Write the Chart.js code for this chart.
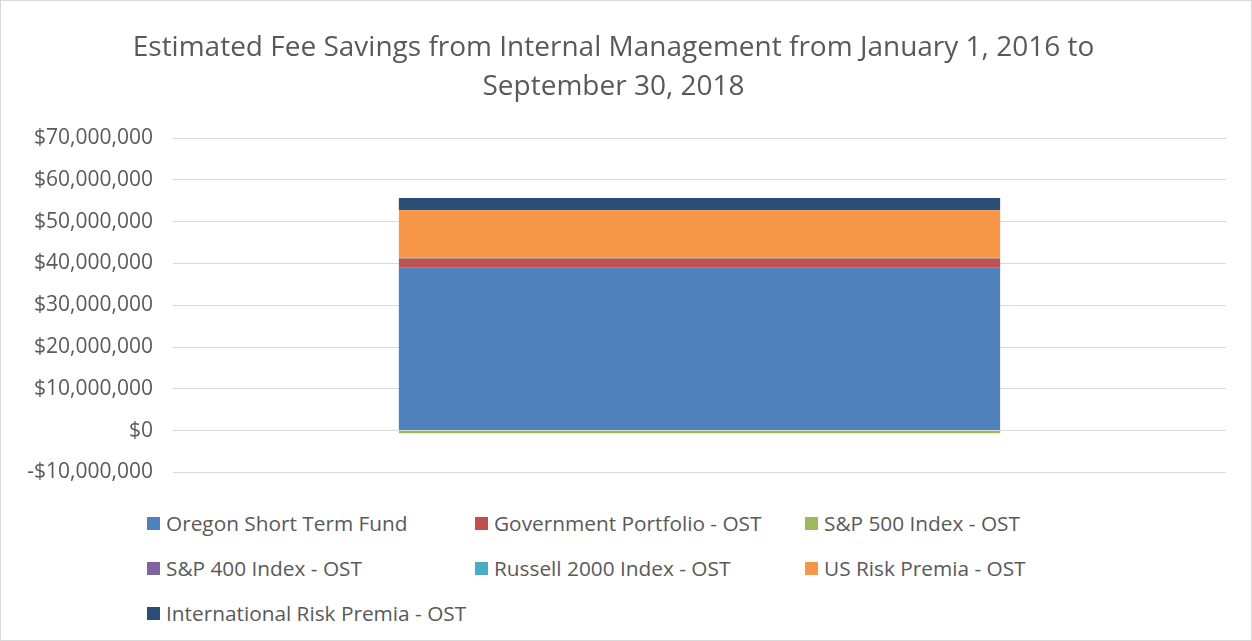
<!DOCTYPE html>
<html>
<head>
<meta charset="utf-8">
<script src="https://cdn.jsdelivr.net/npm/chart.js@4.4.0/dist/chart.umd.min.js"></script>
<style>
  html, body { margin: 0; padding: 0; background: #fff; }
  #wrap { position: relative; width: 1250px; height: 639px; border: 1px solid #d9d9d9; }
  #chartbox { position: absolute; left: 0; top: 0; width: 1250px; height: 504px; }
  #legend { position: absolute; left: 146px; top: 508px; display: grid;
    grid-template-columns: 328px 330px 330px; row-gap: 17px;
    font-family: "Open Sans", sans-serif; font-size: 20.8px; color: #595959; }
  .item { display: flex; align-items: center; height: 28px; white-space: nowrap; }
  .box { width: 13px; height: 13px; margin-right: 6px; flex: none; }
</style>
</head>
<body>
<div id="wrap">
  <div id="chartbox"><canvas id="chart"></canvas></div>
  <div id="legend"></div>
</div>
<script>
// single category, values in dollars
categories = [""];
seriesNames = [
  "Oregon Short Term Fund",
  "Government Portfolio - OST",
  "S&P 500 Index - OST",
  "S&P 400 Index - OST",
  "Russell 2000 Index - OST",
  "US Risk Premia - OST",
  "International Risk Premia - OST"
];
oregonShortTerm = [39100000];
governmentPortfolio = [2050000];
sp500Index = [-650000];
sp400Index = [40000];
russell2000Index = [230000];
usRiskPremia = [11300000];
intlRiskPremia = [2900000];
seriesColors = ["#4f81bd", "#c0504d", "#9bbb59", "#8064a2", "#4bacc6", "#f79646", "#2c4d75"];

yMin = -10000000;
yMax = 70000000;
yStep = 10000000;

function money(v) {
  let s = "$" + Math.abs(v).toLocaleString("en-US");
  return v < 0 ? "-" + s : s;
}

const seriesValues = [oregonShortTerm, governmentPortfolio, sp500Index, sp400Index,
  russell2000Index, usRiskPremia, intlRiskPremia];

const datasets = [];
for (let i = 0; i < seriesNames.length; i++) {
  datasets.push({
    label: seriesNames[i],
    data: seriesValues[i],
    backgroundColor: seriesColors[i],
    borderWidth: 0,
    barPercentage: 0.571,
    categoryPercentage: 1.0,
  });
}

// legend laid out in Excel-like columns
const legend = document.getElementById('legend');
for (let i = 0; i < seriesNames.length; i++) {
  const d = document.createElement('div');
  d.className = 'item';
  d.innerHTML = '<span class="box" style="background:' + seriesColors[i] + '"></span>';
  const t = document.createElement('span');
  t.textContent = seriesNames[i];
  d.appendChild(t);
  legend.appendChild(d);
}

const ctx = document.getElementById('chart').getContext('2d');
myChart = new Chart(ctx, {
  type: 'bar',
  data: { labels: categories, datasets: datasets },
  options: {
    responsive: true,
    maintainAspectRatio: false,
    animation: false,
    layout: { padding: { left: 0, right: 25, top: 0, bottom: 10 } },
    plugins: {
      legend: { display: false },
      tooltip: { enabled: false },
      title: {
        display: true,
        text: ["Estimated Fee Savings from Internal Management from January 1, 2016 to",
               "September 30, 2018"],
        color: "#595959",
        font: { family: "Open Sans", size: 28, weight: "normal", lineHeight: 1.393 },
        padding: { top: 28, bottom: 31 },
      },
    },
    scales: {
      x: {
        stacked: true,
        grid: { display: false },
        border: { display: false },
        ticks: { display: false },
      },
      y: {
        stacked: true,
        min: yMin,
        max: yMax,
        afterFit: function(scale) { scale.width = 172; },
        ticks: {
          stepSize: yStep,
          padding: 20,
          color: "#595959",
          font: { family: "Open Sans", size: 21 },
          callback: function(v) { return money(v); },
        },
        grid: { color: "#d9d9d9", lineWidth: 1, drawTicks: false },
        border: { display: false },
      }
    }
  }
});
</script>
</body>
</html>
